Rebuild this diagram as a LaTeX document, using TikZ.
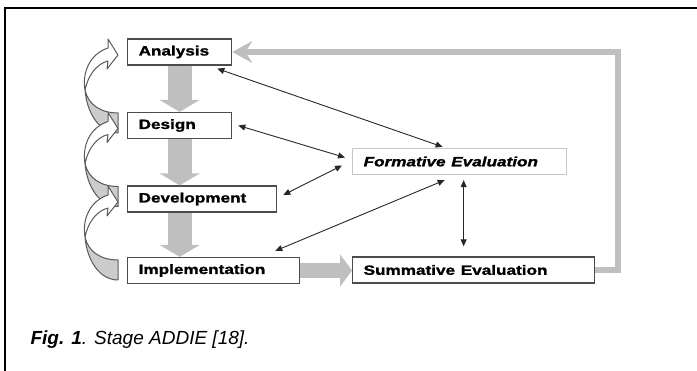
\documentclass[tikz,border=0pt]{standalone}
\usepackage{fontspec}
\setmainfont{Liberation Sans}
\newfontfamily\heavyfont{Liberation Sans}[BoldFeatures={FakeBold=1.2}, BoldItalicFeatures={FakeBold=1.2}]
\usepackage{graphicx}
\usetikzlibrary{arrows.meta}

\newcommand{\wide}[1]{\scalebox{1.27}[1]{#1}}

\begin{document}
\begin{tikzpicture}[x=1pt, y=-1pt,
  box/.style={draw=black!70, line width=1.3pt, fill=white, anchor=west, minimum height=26pt,
    inner xsep=11pt, inner ysep=0pt, align=left, font=\heavyfont\bfseries\fontsize{13.5}{14}\selectfont},
  link/.style={draw=black!85, line width=0.9pt,
    {Triangle[length=7pt,width=6pt]}-{Triangle[length=7pt,width=6pt]}},
  back/.style={draw=gray!50, line width=6pt},
  curl/.style={draw=black!65, line width=1pt, line join=round}
]
\useasboundingbox (0,0) rectangle (697,371);
\draw[line width=1.5pt] (5,371) -- (5,8) -- (697,8);

% stages
\node[box, text width=82pt] (ana) at (127,52) {\wide{Analysis}};
\node[box, text width=82pt] (des) at (127,125.5) {\wide{Design}};
\node[box, text width=127pt] (dev) at (127,199) {\wide{Development}};
\node[box, text width=150pt] (imp) at (127,270.5) {\wide{Implementation}};
\node[box, text width=220pt] (sum) at (352,270) {\wide{Summative Evaluation}};
\node[box, draw=gray!45, text width=192pt,
  font=\heavyfont\bfseries\itshape\fontsize{13.5}{14}\selectfont] (form) at (352,161.5) {\wide{Formative Evaluation}};

% main flow
\draw[gray!50, line width=24pt, -{Triangle[width=40pt,length=12pt]}] (ana.south) -- (des.north);
\draw[gray!50, line width=24pt, -{Triangle[width=40pt,length=12pt]}] (des.south) -- (des.south |- dev.north);
\draw[gray!50, line width=24pt, -{Triangle[width=40pt,length=12pt]}] (des.south |- dev.south) -- (des.south |- imp.north);
\draw[gray!50, line width=15pt, -{Triangle[width=32pt,length=12pt]}] (imp.east) -- (imp.east -| sum.west);
\draw[back, -{Stealth[width=22pt,length=20pt,inset=7pt]}] (sum.east) -- ++(23,0) |- (ana.east);

% loops back on the left
\foreach \upper in {ana,des,dev}{
  \begin{scope}[shift={([xshift=-9pt]\upper.west)}]
    \filldraw[curl, fill=gray!40] (0,61) -- (0,81) .. controls (-18,81) and (-31,62) .. (-33,38)
      .. controls (-30,52) and (-18,61) .. (0,61) -- cycle;
    \filldraw[curl, fill=white] (-33,38) .. controls (-36,20) and (-28,2) .. (-10,-4)
      -- (-10,-13) -- (0,3) -- (-11,17) -- (-10,9)
      .. controls (-22,12) and (-30,24) .. (-33,38) -- cycle;
  \end{scope}
}

% formative links
\draw[link] ([xshift=-15pt,yshift=-3pt]ana.south east) -- ([xshift=-17pt,yshift=1pt]form.north);
\draw[link] ([xshift=6pt]des.east) -- ([xshift=-7pt,yshift=4pt]form.west);
\draw[link] ([xshift=6pt,yshift=4pt]dev.east) -- ([xshift=-10pt,yshift=-4pt]form.west);
\draw[link] ([xshift=-25pt,yshift=6pt]imp.north east) -- ([xshift=-15pt,yshift=-5pt]form.south);
\draw[link] ([xshift=4pt,yshift=-5pt]form.south) -- ([xshift=-10pt,yshift=10pt]sum.north);

\node[anchor=base west, font=\itshape\fontsize{19}{20}\selectfont] (cap) at (27,345)
  {\textbf{Fig. 1}. Stage ADDIE [18].};
\end{tikzpicture}
\end{document}
